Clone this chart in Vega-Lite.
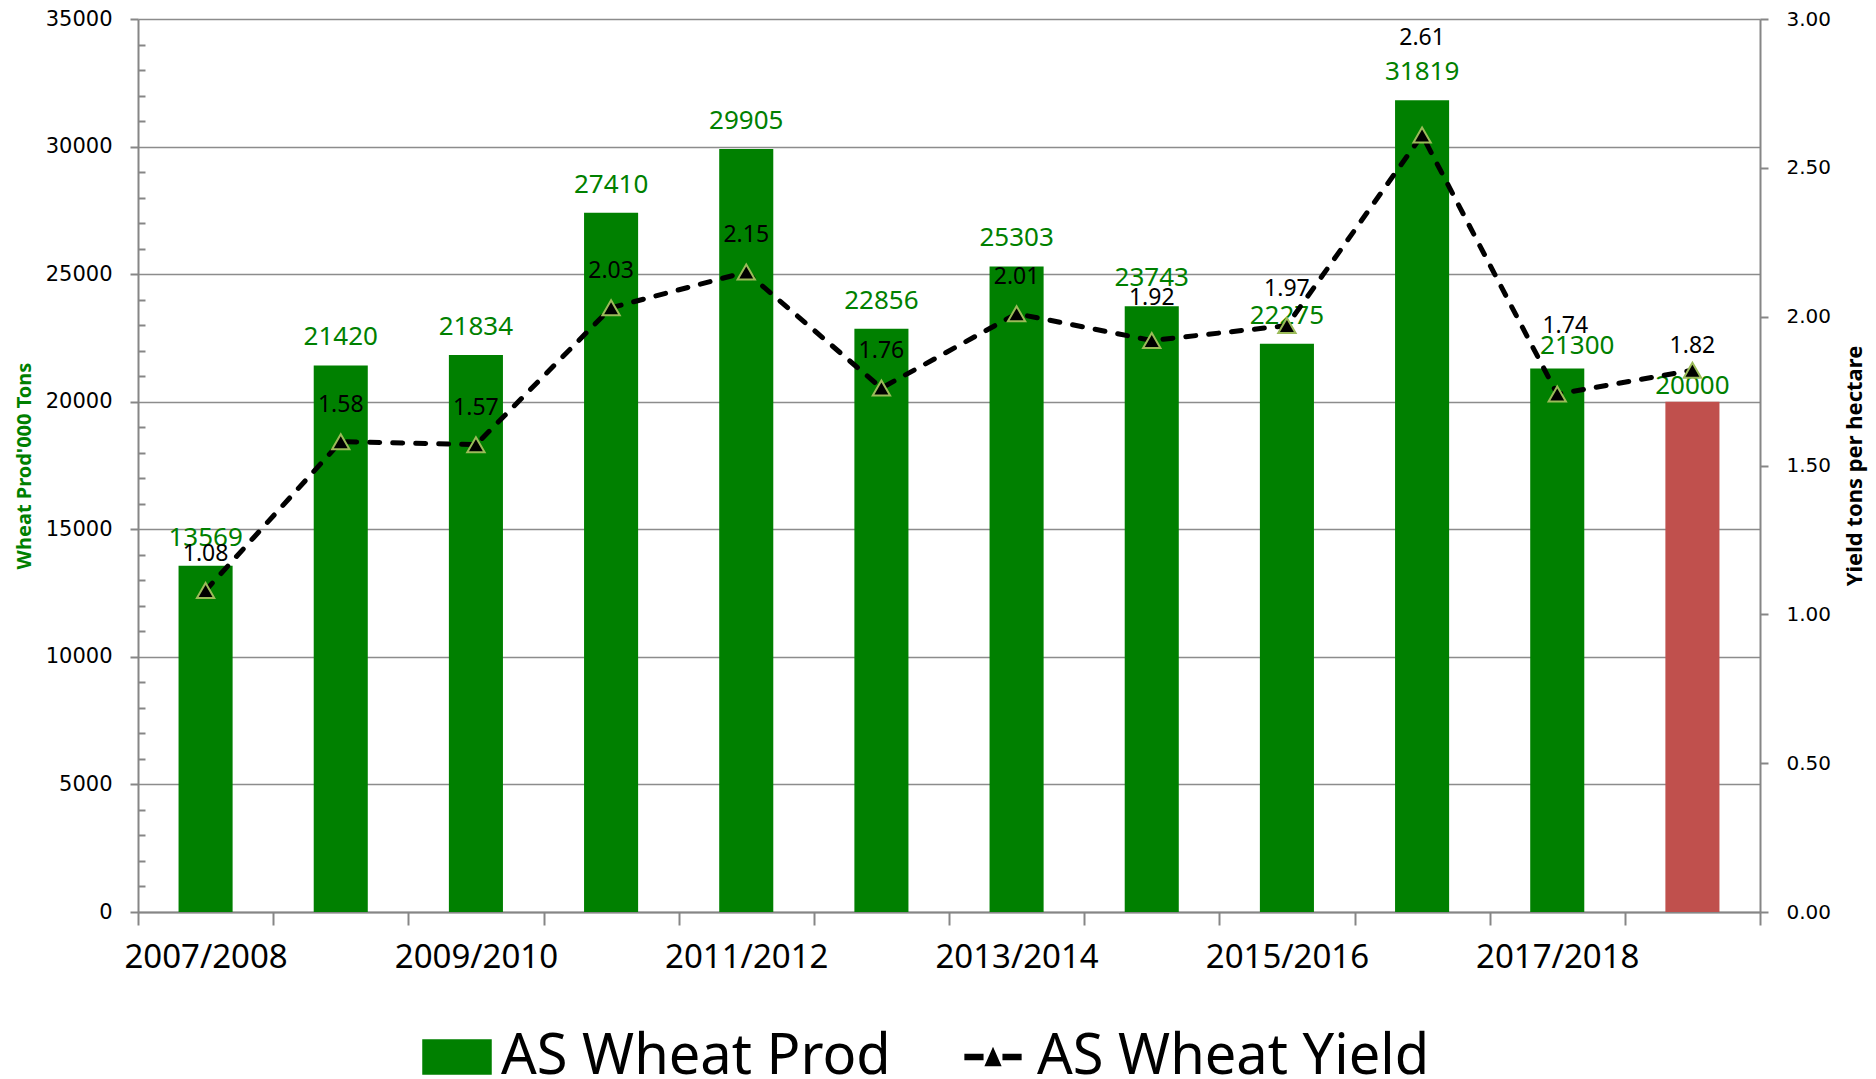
{
  "$schema": "https://vega.github.io/schema/vega-lite/v6.json",
  "width": 1622,
  "height": 893,
  "autosize": {"type": "none"},
  "padding": {"left": 138, "top": 19, "right": 116, "bottom": 167},
  "background": "white",
  "config": {"view": {"stroke": null}, "font": "Noto Sans"},
  "data": {
    "values": [
      {"season": "2007/2008", "prod": 13569, "yield": 1.08},
      {"season": "2008/2009", "prod": 21420, "yield": 1.58},
      {"season": "2009/2010", "prod": 21834, "yield": 1.57},
      {"season": "2010/2011", "prod": 27410, "yield": 2.03},
      {"season": "2011/2012", "prod": 29905, "yield": 2.15},
      {"season": "2012/2013", "prod": 22856, "yield": 1.76},
      {"season": "2013/2014", "prod": 25303, "yield": 2.01},
      {"season": "2014/2015", "prod": 23743, "yield": 1.92},
      {"season": "2015/2016", "prod": 22275, "yield": 1.97},
      {"season": "2016/2017", "prod": 31819, "yield": 2.61},
      {"season": "2017/2018", "prod": 21300, "yield": 1.74},
      {"season": "2018/2019", "prod": 20000, "yield": 1.82}
    ]
  },
  "encoding": {
    "x": {
      "field": "season",
      "type": "ordinal",
      "sort": null,
      "scale": {"paddingInner": 0, "paddingOuter": 0},
      "axis": {
        "title": null,
        "labelAngle": 0,
        "labelFont": "Noto Sans",
        "labelFontSize": 33,
        "labelColor": "black",
        "labelPadding": 16,
        "tickBand": "extent",
        "tickSize": 13,
        "tickColor": "#868686",
        "tickWidth": 2,
        "domainColor": "#868686",
        "domainWidth": 2,
        "grid": false,
        "labelExpr": "test(/^20(07|09|11|13|15|17)/, datum.value) ? datum.value : ''"
      }
    }
  },
  "layer": [
    {
      "encoding": {
        "y": {
          "field": "prod",
          "type": "quantitative",
          "scale": {"domain": [0, 35000], "nice": false},
          "axis": {
            "orient": "left",
            "title": "Wheat Prod'000 Tons",
            "titleColor": "#008000",
            "titleFont": "Noto Sans",
            "titleFontSize": 20,
            "titleFontWeight": "bold",
            "titlePadding": 11,
            "values": [0,1000,2000,3000,4000,5000,6000,7000,8000,9000,10000,11000,12000,13000,14000,15000,16000,17000,18000,19000,20000,21000,22000,23000,24000,25000,26000,27000,28000,29000,30000,31000,32000,33000,34000,35000],
            "format": "d",
            "labelExpr": "datum.value % 5000 === 0 ? datum.label : ''",
            "labelFont": "DejaVu Sans",
            "labelFontSize": 21,
            "labelColor": "black",
            "labelPadding": 18,
            "tickSize": {"condition": {"test": "datum.value % 5000 === 0", "value": 8}, "value": -7},
            "tickColor": "#868686",
            "tickWidth": 2,
            "domainColor": "#868686",
            "domainWidth": 2,
            "grid": true,
            "gridColor": "#8c8c8c",
            "gridWidth": 1.5,
            "gridOpacity": {"condition": {"test": "datum.value % 5000 === 0", "value": 1}, "value": 0}
          }
        }
      },
      "layer": [
        {
          "mark": {"type": "bar", "width": {"band": 0.4}},
          "encoding": {
            "color": {
              "condition": {"test": "datum.season === '2018/2019'", "value": "#C0504D"},
              "datum": "AS Wheat Prod",
              "type": "nominal",
              "scale": {"domain": ["AS Wheat Prod", "AS Wheat Yield"], "range": ["#008000", "#000000"]},
              "legend": {
                "orient": "none",
                "legendX": 284,
                "legendY": 1003,
                "direction": "horizontal",
                "title": null,
                "labelFont": "Noto Sans",
                "labelFontSize": 56,
                "labelColor": "black",
                "labelLimit": 1000,
                "symbolSize": 4624,
                "labelOffset": 9,
                "columnPadding": 67,
                "encode": {
                  "symbols": {
                    "update": {
                      "shape": {"signal": "datum.value === 'AS Wheat Prod' ? 'M-1,-0.5H1V0.5H-1Z' : 'M-0.82,-0.07H-0.3V0.07H-0.82Z M-0.22,0.25L0,-0.25L0.22,0.25Z M0.3,-0.07H0.82V0.07H0.3Z'"},
                      "fill": {"signal": "datum.value === 'AS Wheat Prod' ? '#008000' : '#000000'"},
                      "stroke": {"value": "transparent"},
                      "strokeDash": {"value": []},
                      "opacity": {"value": 1},
                      "fillOpacity": {"value": 1}
                    }
                  }
                }
              }
            }
          }
        },
        {
          "transform": [{"filter": "datum.season !== '2017/2018' && datum.season !== '2018/2019'"}],
          "mark": {"type": "text", "dy": -28, "fontSize": 26, "font": "Noto Sans", "color": "#008000", "baseline": "middle"},
          "encoding": {"text": {"field": "prod", "type": "quantitative", "format": "d"}}
        },
        {
          "transform": [{"filter": "datum.season === '2017/2018'"}],
          "mark": {"type": "text", "dy": -23, "dx": 20, "fontSize": 26, "font": "Noto Sans", "color": "#008000", "baseline": "middle"},
          "encoding": {"text": {"field": "prod", "type": "quantitative", "format": "d"}}
        },
        {
          "transform": [{"filter": "datum.season === '2018/2019'"}],
          "mark": {"type": "text", "dy": -16, "fontSize": 26, "font": "Noto Sans", "color": "#008000", "baseline": "middle"},
          "encoding": {"text": {"field": "prod", "type": "quantitative", "format": "d"}}
        }
      ]
    },
    {
      "encoding": {
        "y": {
          "field": "yield",
          "type": "quantitative",
          "scale": {"domain": [0, 3], "nice": false},
          "axis": {
            "orient": "right",
            "title": "Yield tons per hectare",
            "titleColor": "black",
            "titleFont": "Noto Sans",
            "titleFontSize": 22,
            "titleFontWeight": "bold",
            "titleAngle": 270,
            "titlePadding": 36,
            "values": [0, 0.5, 1, 1.5, 2, 2.5, 3],
            "format": ".2f",
            "labelFont": "DejaVu Sans",
            "labelFontSize": 20,
            "labelColor": "black",
            "labelPadding": 18,
            "tickSize": 8,
            "tickColor": "#868686",
            "tickWidth": 2,
            "domainColor": "#868686",
            "domainWidth": 2,
            "grid": false
          }
        }
      },
      "layer": [
        {
          "mark": {"type": "line", "strokeWidth": 5, "strokeDash": [10, 13], "strokeCap": "round"},
          "encoding": {"color": {"datum": "AS Wheat Yield", "type": "nominal"}}
        },
        {
          "mark": {"type": "point", "shape": "triangle-up", "filled": true, "size": 300, "fill": "#000000", "stroke": "#9BBB59", "strokeWidth": 2, "opacity": 1}
        },
        {
          "transform": [{"filter": "indexof(['2014/2015','2016/2017','2017/2018','2018/2019'], datum.season) < 0"}],
          "mark": {"type": "text", "dy": -37, "fontSize": 23, "font": "Noto Sans", "color": "black", "baseline": "middle"},
          "encoding": {"text": {"field": "yield", "type": "quantitative", "format": ".2f"}}
        },
        {
          "transform": [{"filter": "datum.season === '2014/2015'"}],
          "mark": {"type": "text", "dy": -42, "fontSize": 23, "font": "Noto Sans", "color": "black", "baseline": "middle"},
          "encoding": {"text": {"field": "yield", "type": "quantitative", "format": ".2f"}}
        },
        {
          "transform": [{"filter": "datum.season === '2016/2017'"}],
          "mark": {"type": "text", "dy": -97, "fontSize": 23, "font": "Noto Sans", "color": "black", "baseline": "middle"},
          "encoding": {"text": {"field": "yield", "type": "quantitative", "format": ".2f"}}
        },
        {
          "transform": [{"filter": "datum.season === '2017/2018'"}],
          "mark": {"type": "text", "dy": -68, "dx": 8, "fontSize": 23, "font": "Noto Sans", "color": "black", "baseline": "middle"},
          "encoding": {"text": {"field": "yield", "type": "quantitative", "format": ".2f"}}
        },
        {
          "transform": [{"filter": "datum.season === '2018/2019'"}],
          "mark": {"type": "text", "dy": -24, "fontSize": 23, "font": "Noto Sans", "color": "black", "baseline": "middle"},
          "encoding": {"text": {"field": "yield", "type": "quantitative", "format": ".2f"}}
        }
      ]
    }
  ],
  "resolve": {"scale": {"y": "independent"}}
}
